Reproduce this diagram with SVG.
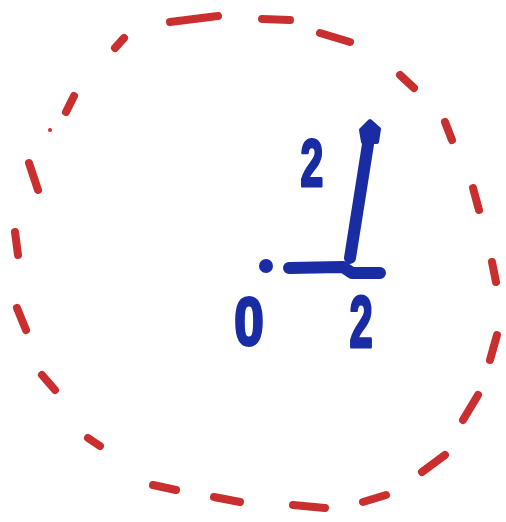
<svg xmlns="http://www.w3.org/2000/svg" width="506" height="522" viewBox="0 0 506 522">
<style>
.r{fill:none;stroke:#c92f2e;stroke-width:8;stroke-linecap:round;stroke-linejoin:round}
.b{fill:none;stroke:#1a2ca3;stroke-width:12;stroke-linecap:round;stroke-linejoin:round}
.t{font-family:"Liberation Sans",sans-serif;font-weight:bold;fill:#1a2ca3;stroke:#1a2ca3;stroke-width:3;stroke-linejoin:round}
</style>
<rect width="506" height="522" fill="#fff"/>
<g id="circle">
<path class="r" d="M170,22 L218,16"/>
<path class="r" d="M262,19 L290,20"/>
<path class="r" d="M320,33 L350,42"/>
<path class="r" d="M400,75 L414,88"/>
<path class="r" d="M445,122 L452,140"/>
<path class="r" d="M473,188 L479,210"/>
<path class="r" d="M492,262 L496,282"/>
<path class="r" d="M497,335 L490,360"/>
<path class="r" d="M478,395 L463,420"/>
<path class="r" d="M445,455 L422,472"/>
<path class="r" d="M386,495 L363,502"/>
<path class="r" d="M325,508 L293,505"/>
<path class="r" d="M240,502 L214,497"/>
<path class="r" d="M176,490 L153,485"/>
<path class="r" d="M100,446 L88,438"/>
<path class="r" d="M55,390 L42,375"/>
<path class="r" d="M26,330 L17,308"/>
<path class="r" d="M18,255 L15,232"/>
<path class="r" d="M38,190 L29,163"/>
<path class="r" d="M74,96 L66,112"/>
<path class="r" d="M124,38 L115,48"/>
<circle cx="50" cy="130" r="2" fill="#c92f2e"/>
</g>
<g id="connectors">
<path class="b" d="M350,258 L369,138"/>
<path d="M361,130 L370,121 L379,129 L377,142 L363,142 Z" fill="#1a2ca3" stroke="#1a2ca3" stroke-width="4" stroke-linejoin="round"/>
<path class="b" d="M289,268 L343,267 L352,273 L380,273"/>
<circle cx="266" cy="266" r="7" fill="#1a2ca3"/>
</g>
<g id="labels">
<text class="t" x="312" y="186" font-size="66" text-anchor="middle" transform="translate(312,186) scale(0.62,1) translate(-312,-186)">2</text>
<text class="t" x="249" y="345" font-size="68" text-anchor="middle" transform="translate(249,345) scale(0.78,1) translate(-249,-345)">0</text>
<text class="t" x="361" y="347" font-size="72" text-anchor="middle" transform="translate(361,347) scale(0.58,1) translate(-361,-347)">2</text>
</g>
</svg>
